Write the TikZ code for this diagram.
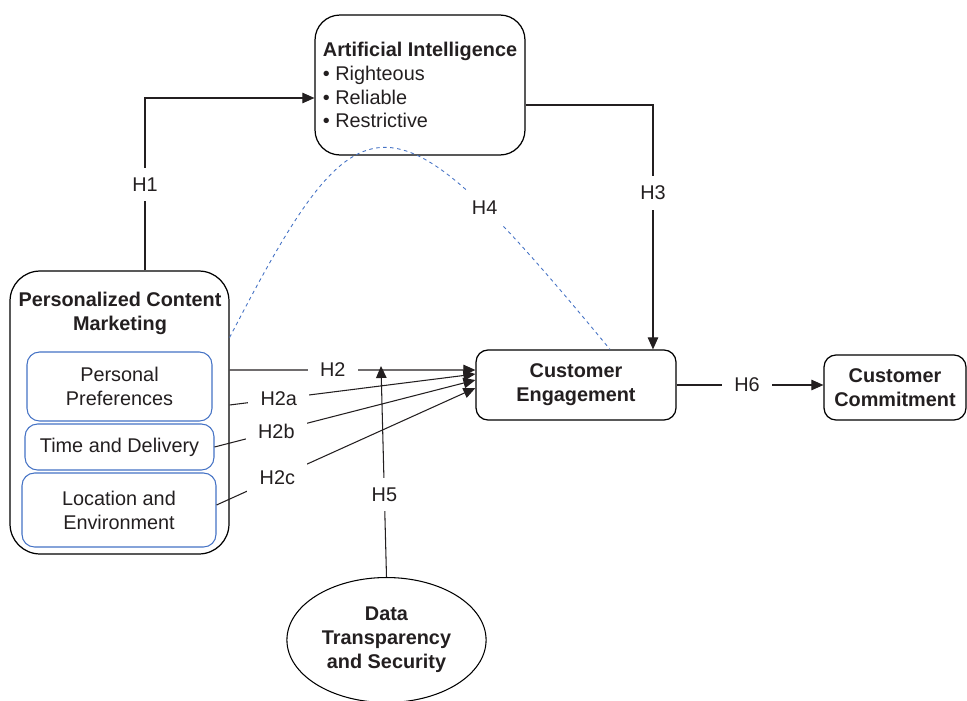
\documentclass[tikz,border=0pt]{standalone}
\usepackage{fontspec}
\setmainfont{Liberation Sans}
\usetikzlibrary{arrows.meta,shapes.geometric}
\definecolor{boxblue}{HTML}{4472C4}
\definecolor{inkgray}{HTML}{231F20}

\begin{document}
\begin{tikzpicture}[x=0.02cm,y=-0.02cm,
  font=\fontsize{11.3}{13.6}\selectfont,text=inkgray,
  box/.style={draw=black,line width=0.7pt,rounded corners=0.24cm,align=center},
  subbox/.style={draw=boxblue,line width=0.6pt,rounded corners=0.25cm,align=center},
  link/.style={draw=inkgray,line width=0.6pt,-{Triangle[length=0.24cm,width=0.21cm]}},
  lbl/.style={fill=white,text=inkgray,inner xsep=7pt,inner ysep=5.5pt}]
  \useasboundingbox (0,0) rectangle (967,700);
  \node[box,rounded corners=0.5cm,minimum width=4.2cm,minimum height=2.8cm,align=left] (ai) at (420,85)
    {\textbf{Artificial Intelligence}\\• Righteous\\• Reliable\\• Restrictive};
  \node[box,rounded corners=0.6cm,minimum width=4.38cm,minimum height=5.66cm] (pcm) at (119.5,412.5) {};
  \node[align=center,font=\fontsize{11.3}{13.6}\selectfont\bfseries] (pcmtitle) at (120,313) {Personalized Content\\Marketing};
  \node[subbox,minimum width=3.7cm,minimum height=1.38cm] (pp) at (119.5,386.5) {Personal\\Preferences};
  \node[subbox,minimum width=3.78cm,minimum height=0.92cm] (td) at (119.5,447) {Time and Delivery};
  \node[subbox,minimum width=3.88cm,minimum height=1.48cm] (le) at (119,510) {Location and\\Environment};
  \node[box,minimum width=4cm,minimum height=1.4cm,font=\fontsize{11.3}{13.6}\selectfont\bfseries] (ce) at (576,385) {Customer\\Engagement};
  \node[box,minimum width=2.84cm,minimum height=1.3cm,font=\fontsize{11.3}{13.6}\selectfont\bfseries] (cc) at (895,387.5) {Customer\\Commitment};
  \node[draw,ellipse,line width=0.6pt,minimum width=3.74cm,minimum height=2.5cm,align=center,font=\fontsize{11.3}{13.6}\selectfont\bfseries] (dts) at (386.5,640) {Data\\Transparency\\and Security};
  \coordinate (h5end) at (381,366);

  \draw[link] ([xshift=0.51cm]pcm.north) |- node[lbl,pos=0.25] {H1} ([yshift=-0.26cm]ai.west);
  \draw[link] ([yshift=-0.4cm]ai.east) -| node[lbl,pos=0.68] {H3} ([xshift=1.54cm]ce.north);
  \draw[boxblue,line width=0.5pt,dash pattern=on 2pt off 2pt] ([yshift=1.5cm]pcm.east)
    .. controls (362,82) and (389,82) .. node[lbl,pos=0.77] {H4} ([xshift=0.68cm]ce.north);
  \draw[link] ([yshift=0.85cm]pcm.east) -- node[lbl,pos=0.42] {H2} ([yshift=0.3cm]ce.west);
  \draw[link] ([yshift=0.15cm]pcm.east) -- node[lbl,pos=0.2] {H2a} ([yshift=0.22cm]ce.west);
  \draw[link] (td.east) -- node[lbl,pos=0.237] {H2b} ([yshift=0.1cm]ce.west);
  \draw[link] ([yshift=0.1cm]le.east) -- node[lbl,pos=0.235] {H2c} ([yshift=-0.06cm]ce.west);
  \draw[link] (dts.north) -- node[lbl,pos=0.39] {H5} (h5end);
  \draw[link] (ce.east) -- node[lbl,pos=0.48] {H6} (ce.east -| cc.west);
\end{tikzpicture}
\end{document}
